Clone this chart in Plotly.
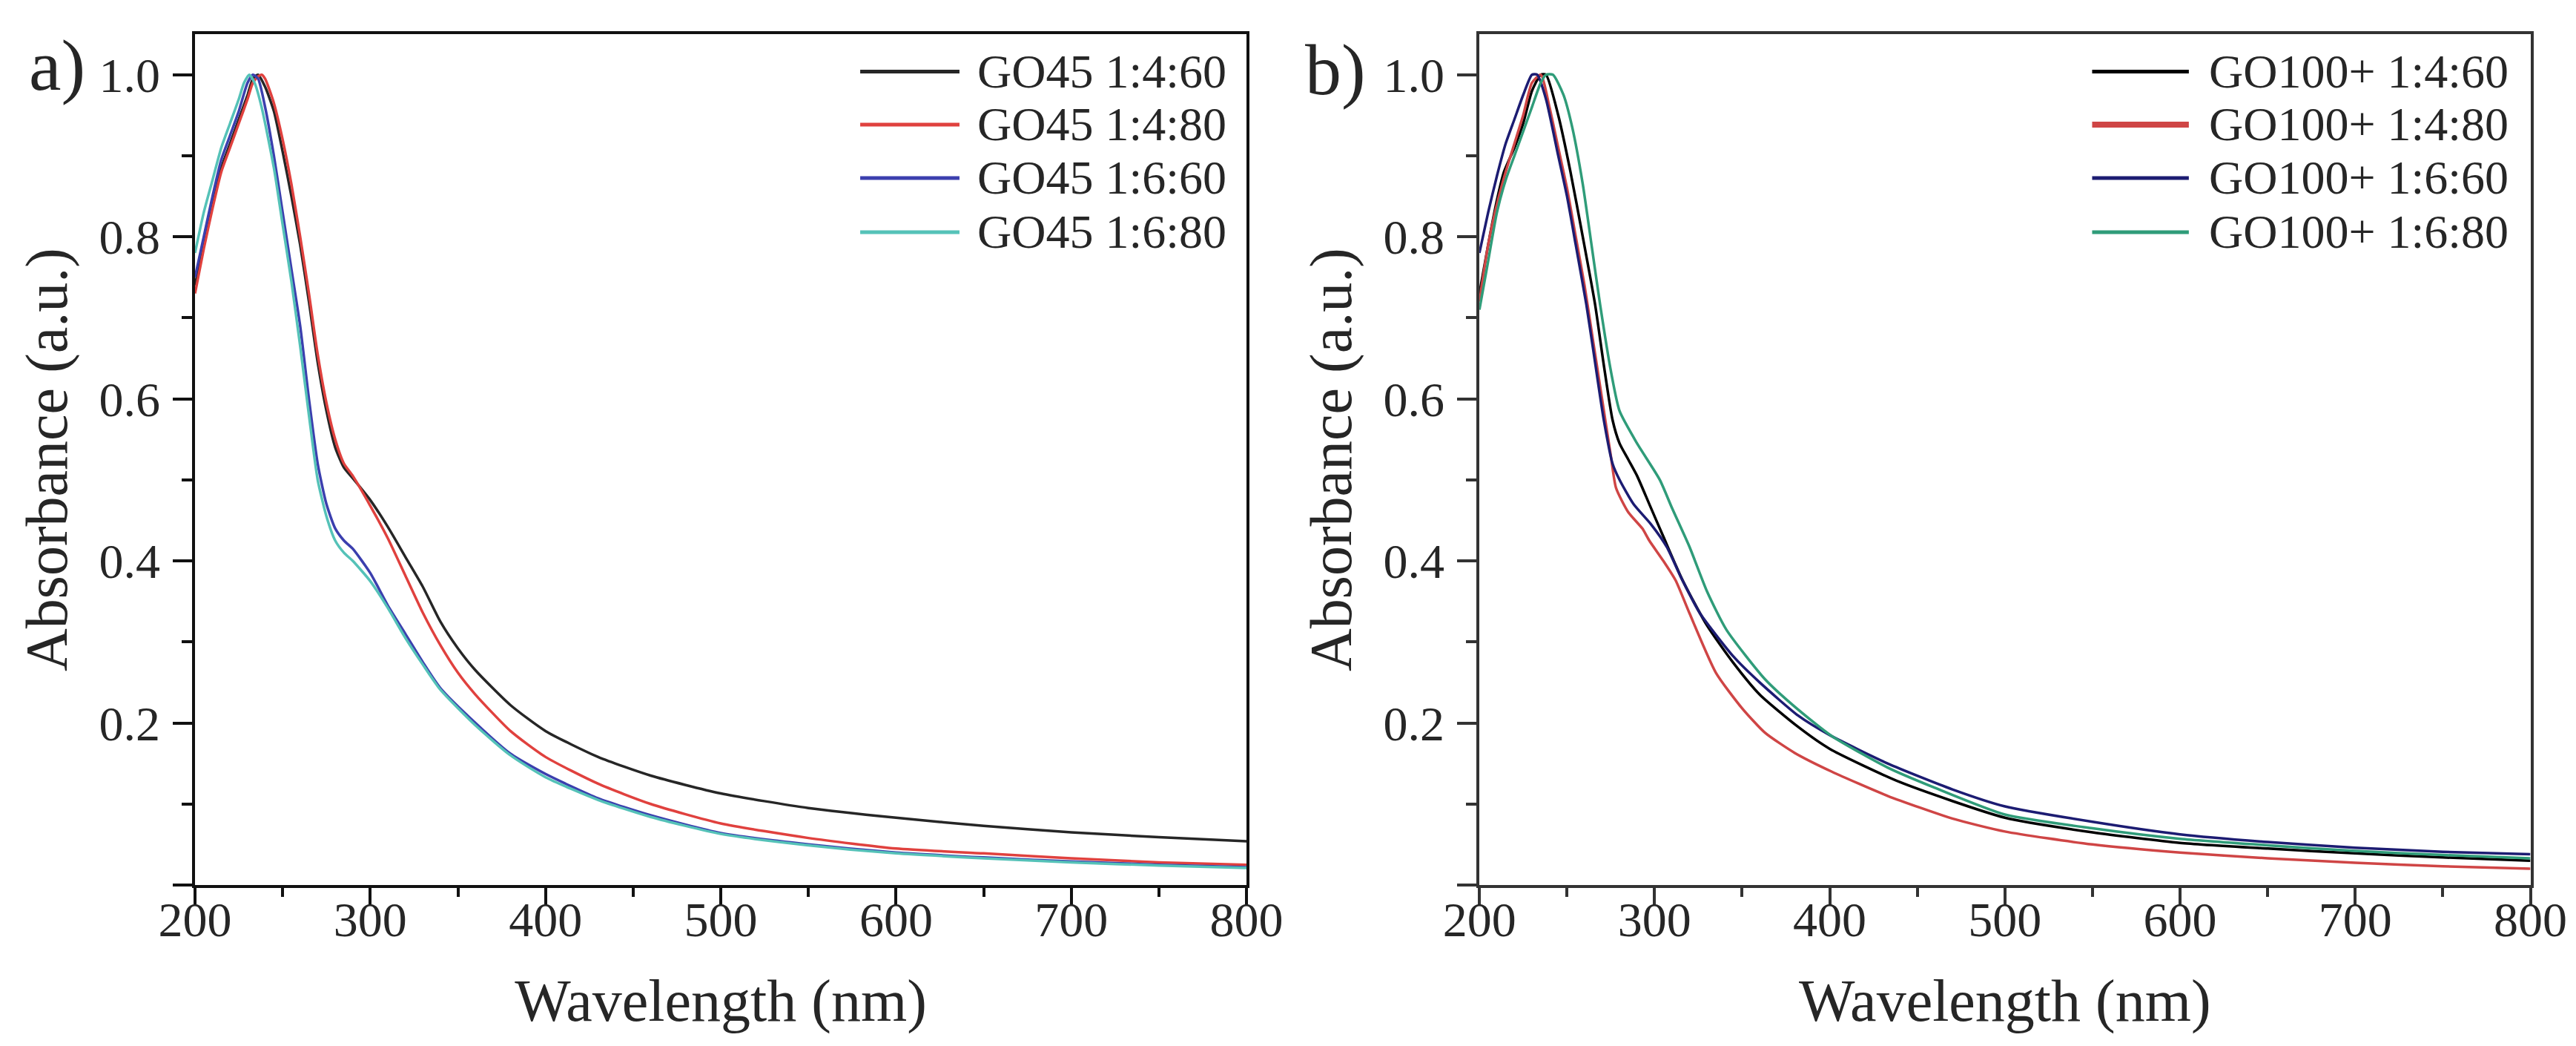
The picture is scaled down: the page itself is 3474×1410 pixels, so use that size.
import plotly.graph_objects as go

# ---- panel a) GO45 series (wavelength nm, absorbance a.u.) ----
wl_a_black = [200, 205, 210, 215, 220, 225, 230, 233, 236, 240, 245, 250, 255, 260, 265, 270, 275, 280, 285, 290,
              300, 310, 320, 330, 340, 350, 360, 380, 400, 430, 460, 500, 550, 600, 650, 700, 750, 800]
ab_a_black = [0.74, 0.79, 0.84, 0.885, 0.915, 0.945, 0.975, 0.995, 1.0, 0.985, 0.955, 0.905, 0.85, 0.79, 0.72, 0.645,
              0.585, 0.54, 0.515, 0.502, 0.475, 0.442, 0.405, 0.368, 0.325, 0.292, 0.265, 0.222, 0.19, 0.158, 0.135,
              0.113, 0.095, 0.083, 0.073, 0.065, 0.059, 0.054]

wl_a_red = [200, 205, 210, 215, 220, 225, 230, 233, 236, 238, 240, 245, 250, 255, 260, 265, 270, 275, 280, 285, 290,
            300, 310, 320, 330, 340, 350, 360, 380, 400, 430, 460, 500, 550, 600, 650, 700, 750, 800]
ab_a_red = [0.73, 0.785, 0.835, 0.88, 0.91, 0.94, 0.97, 0.99, 0.998, 1.0, 0.995, 0.965, 0.92, 0.865, 0.8, 0.73, 0.655,
            0.595, 0.55, 0.52, 0.505, 0.468, 0.428, 0.382, 0.336, 0.296, 0.262, 0.235, 0.19, 0.158, 0.125, 0.1, 0.076,
            0.058, 0.045, 0.039, 0.033, 0.028, 0.025]

wl_a_blue = [200, 205, 210, 215, 220, 225, 230, 233, 236, 240, 245, 250, 255, 260, 265, 270, 275, 280, 285, 290,
             300, 310, 320, 330, 340, 360, 380, 400, 430, 460, 500, 550, 600, 650, 700, 750, 800]
ab_a_blue = [0.75, 0.80, 0.85, 0.895, 0.925, 0.955, 0.99, 1.0, 0.995, 0.96, 0.9, 0.83, 0.76, 0.69, 0.6, 0.52, 0.47,
             0.44, 0.425, 0.415, 0.385, 0.345, 0.31, 0.275, 0.243, 0.2, 0.162, 0.137, 0.107, 0.086, 0.064, 0.05,
             0.04, 0.034, 0.029, 0.025, 0.022]

wl_a_cyan = [200, 205, 210, 215, 220, 225, 228, 231, 234, 238, 245, 250, 255, 260, 265, 270, 275, 280, 285, 290,
             300, 310, 320, 330, 340, 360, 380, 400, 430, 460, 500, 550, 600, 650, 700, 750, 800]
ab_a_cyan = [0.78, 0.83, 0.87, 0.91, 0.94, 0.97, 0.99, 1.0, 0.99, 0.96, 0.885, 0.815, 0.745, 0.665, 0.58, 0.5, 0.455,
             0.425, 0.41, 0.4, 0.375, 0.342, 0.305, 0.272, 0.241, 0.197, 0.16, 0.133, 0.105, 0.084, 0.063, 0.049,
             0.039, 0.033, 0.028, 0.024, 0.021]

# ---- panel b) GO100+ series ----
wl_b_black = [200, 205, 210, 214, 220, 225, 230, 235, 238, 245, 252, 259, 266, 271, 276, 280, 285, 290, 297, 305,
              316, 330, 345, 360, 382, 400, 440, 500, 550, 600, 650, 700, 750, 800]
ab_b_black = [0.73, 0.79, 0.845, 0.88, 0.91, 0.94, 0.98, 1.0, 1.0, 0.95, 0.88, 0.8, 0.717, 0.642, 0.574, 0.545, 0.525,
              0.505, 0.47, 0.43, 0.376, 0.32, 0.274, 0.235, 0.195, 0.168, 0.127, 0.083, 0.065, 0.052, 0.045, 0.039,
              0.034, 0.030]

wl_b_red = [200, 205, 210, 215, 220, 225, 230, 235, 240, 245, 250, 255, 260, 265, 270, 275, 278, 285, 293, 297, 305,
            312, 320, 335, 350, 363, 380, 401, 433, 470, 500, 550, 600, 650, 700, 750, 800]
ab_b_red = [0.72, 0.79, 0.84, 0.88, 0.915, 0.95, 0.99, 1.0, 0.96, 0.91, 0.86, 0.8, 0.74, 0.67, 0.6, 0.53, 0.49, 0.46,
            0.44, 0.425, 0.4, 0.376, 0.335, 0.262, 0.218, 0.188, 0.163, 0.14, 0.11, 0.082, 0.066, 0.05, 0.04, 0.033,
            0.0275, 0.023, 0.02]

wl_b_blue = [200, 205, 210, 215, 220, 225, 230, 233, 238, 245, 250, 255, 261, 265, 271, 276, 280, 288, 298, 307, 315,
             326, 345, 360, 382, 400, 433, 470, 500, 550, 600, 650, 700, 750, 800]
ab_b_blue = [0.78, 0.83, 0.875, 0.915, 0.945, 0.975, 1.0, 1.0, 0.97, 0.9, 0.85, 0.79, 0.717, 0.66, 0.574, 0.52, 0.5,
             0.47, 0.445, 0.417, 0.38, 0.335, 0.282, 0.25, 0.209, 0.185, 0.15, 0.118, 0.097, 0.078, 0.0625, 0.053,
             0.046, 0.041, 0.038]

wl_b_green = [200, 205, 210, 215, 220, 225, 230, 235, 238, 242, 248, 253, 259, 264, 269, 275, 280, 290, 303, 310, 320,
              330, 341, 363, 380, 401, 433, 460, 500, 550, 600, 650, 700, 750, 800]
ab_b_green = [0.71, 0.77, 0.83, 0.87, 0.9, 0.93, 0.96, 0.99, 1.0, 1.0, 0.975, 0.935, 0.865, 0.79, 0.715, 0.635, 0.585,
              0.545, 0.5, 0.465, 0.417, 0.362, 0.315, 0.254, 0.22, 0.184, 0.145, 0.12, 0.087, 0.07, 0.057, 0.049,
              0.042, 0.037, 0.033]

names_a = ['GO45 1:4:60', 'GO45 1:4:80', 'GO45 1:6:60', 'GO45 1:6:80']
names_b = ['GO100+ 1:4:60', 'GO100+ 1:4:80', 'GO100+ 1:6:60', 'GO100+ 1:6:80']
colors_a = ['#262626', '#e0413e', '#3b3fae', '#55c2b8']
colors_b = ['#000000', '#cf4545', '#1c1c72', '#2f9c79']
legend_widths_b = [5, 8, 5, 5]

x_ticks = [200, 300, 400, 500, 600, 700, 800]
x_minor = [250, 350, 450, 550, 650, 750]
y_ticks = [0.0, 0.2, 0.4, 0.6, 0.8, 1.0]
y_ticktext = ['', '0.2', '0.4', '0.6', '0.8', '1.0']
y_minor = [0.1, 0.3, 0.5, 0.7, 0.9]

FONT = 'Liberation Serif'
TXT = '#262626'

panel_a = [(wl_a_black, ab_a_black), (wl_a_red, ab_a_red), (wl_a_blue, ab_a_blue), (wl_a_cyan, ab_a_cyan)]
panel_b = [(wl_b_black, ab_b_black), (wl_b_red, ab_b_red), (wl_b_blue, ab_b_blue), (wl_b_green, ab_b_green)]

fig = go.Figure()

for (wl, ab), name, col in zip(panel_a, names_a, colors_a):
    fig.add_trace(go.Scatter(x=wl, y=ab, mode='lines', name=name, xaxis='x', yaxis='y', showlegend=False,
                             line=dict(color=col, width=3.5, shape='spline', smoothing=0.6)))

for (wl, ab), name, col in zip(panel_b, names_b, colors_b):
    fig.add_trace(go.Scatter(x=wl, y=ab, mode='lines', name=name, xaxis='x2', yaxis='y2', showlegend=False,
                             line=dict(color=col, width=3.5, shape='spline', smoothing=0.6)))

# empty traces so the overlaid label axes get drawn
for xa, ya in [('x3', 'y3'), ('x4', 'y4')]:
    fig.add_trace(go.Scatter(x=[], y=[], mode='lines', xaxis=xa, yaxis=ya, showlegend=False, hoverinfo='skip'))


# frame axes: lines + ticks, no labels
def x_frame(domain, anchor, linecolor):
    return dict(domain=domain, anchor=anchor, range=[200, 800], tickmode='array', tickvals=x_ticks,
                ticks='outside', ticklen=23, tickwidth=4, tickcolor=linecolor, showticklabels=False,
                minor=dict(tickvals=x_minor, ticks='outside', ticklen=12, tickwidth=4, tickcolor=linecolor),
                showline=True, linewidth=4, linecolor=linecolor, mirror=True,
                showgrid=False, zeroline=False, automargin=False)


def y_frame(domain, anchor, linecolor):
    return dict(domain=domain, anchor=anchor, range=[0, 1.05], tickmode='array', tickvals=y_ticks,
                ticks='outside', ticklen=26, tickwidth=4, tickcolor=linecolor, showticklabels=False,
                minor=dict(tickvals=y_minor, ticks='outside', ticklen=14, tickwidth=4, tickcolor=linecolor),
                showline=True, linewidth=4, linecolor=linecolor, mirror=True,
                showgrid=False, zeroline=False, automargin=False)


# label axes: overlaid, free-positioned so the numbers sit where the original has them
def x_labels(over, pos):
    return dict(overlaying=over, anchor='free', position=pos, side='bottom', range=[200, 800],
                tickmode='array', tickvals=x_ticks, ticks='', showline=False, showgrid=False, zeroline=False,
                automargin=False, tickfont=dict(family=FONT, size=66, color=TXT),
                title=dict(text='Wavelength (nm)', font=dict(family=FONT, size=80, color=TXT), standoff=44))


def y_labels(over, pos):
    return dict(overlaying=over, anchor='free', position=pos, side='left', range=[0, 1.05],
                tickmode='array', tickvals=y_ticks, ticktext=y_ticktext, ticks='', showline=False,
                showgrid=False, zeroline=False, automargin=False,
                tickfont=dict(family=FONT, size=66, color=TXT),
                title=dict(text='Absorbance (a.u.)', font=dict(family=FONT, size=80, color=TXT), standoff=15))


fig.update_layout(
    width=3474, height=1410, autosize=False,
    margin=dict(l=0, r=0, t=0, b=0, autoexpand=False),
    paper_bgcolor='white', plot_bgcolor='white',
    xaxis=x_frame([0.0734, 0.4816], 'y', '#111111'),
    yaxis=y_frame([0.1596, 0.973], 'x', '#111111'),
    xaxis2=x_frame([0.572, 0.980], 'y2', '#333333'),
    yaxis2=y_frame([0.1596, 0.973], 'x2', '#333333'),
    xaxis3=x_labels('x', 0.158),
    xaxis4=x_labels('x2', 0.158),
    yaxis3=y_labels('y', 0.0599),
    yaxis4=y_labels('y2', 0.5584),
)

# legends drawn inside each panel: long line sample + label
shapes = []
annotations = []
row_y = [0.956, 0.8937, 0.831, 0.7673]
legend_specs = [
    ('x domain', 'y domain', names_a, colors_a, [5, 5, 5, 5], 0.6326, 0.727, 0.7426),
    ('x2 domain', 'y2 domain', names_b, colors_b, legend_widths_b, 0.583, 0.675, 0.6925),
]
for xref, yref, names, cols, widths, lx0, lx1, tx in legend_specs:
    for yy, name, col, lw in zip(row_y, names, cols, widths):
        shapes.append(dict(type='line', xref=xref, yref=yref, x0=lx0, x1=lx1, y0=yy, y1=yy,
                           line=dict(color=col, width=lw)))
        annotations.append(dict(xref=xref, yref=yref, x=tx, y=yy, text=name, showarrow=False,
                                xanchor='left', yanchor='middle',
                                font=dict(family=FONT, size=64, color=TXT)))

# panel labels
annotations.append(dict(xref='paper', yref='paper', x=0.0199, y=0.943, text='a)', showarrow=False,
                        xanchor='center', yanchor='middle', font=dict(family=FONT, size=98, color=TXT)))
annotations.append(dict(xref='paper', yref='paper', x=0.516, y=0.939, text='b)', showarrow=False,
                        xanchor='center', yanchor='middle', font=dict(family=FONT, size=98, color=TXT)))

fig.update_layout(shapes=shapes, annotations=annotations)

fig.write_html("out.html", config={'displayModeBar': False})
